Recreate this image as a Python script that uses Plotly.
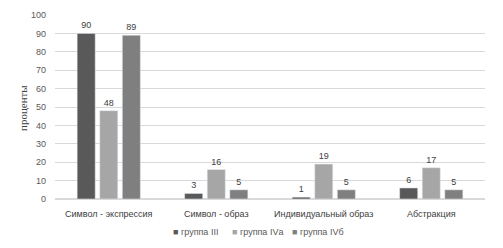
import plotly.graph_objects as go

categories = ["Символ - экспрессия", "Символ - образ", "Индивидуальный образ", "Абстракция"]
series_names = ["группа III", "группа IVа", "группа IVб"]
group_iii = [90, 3, 1, 6]
group_iva = [48, 16, 19, 17]
group_ivb = [89, 5, 5, 5]
colors = ["#595959", "#a6a6a6", "#7f7f7f"]
y_ticks = [0, 10, 20, 30, 40, 50, 60, 70, 80, 90, 100]

FONT = "Liberation Sans"
OFF = 8  # page body margin
W, H = 503 - OFF, 248 - OFF
L, R, T, B = 55 - OFF, 18, 15 - OFF, 49
pw, ph = W - L - R, H - T - B

fig = go.Figure()
for name, vals, c in zip(series_names, [group_iii, group_iva, group_ivb], colors):
    fig.add_trace(go.Bar(
        x=categories, y=vals, name=name, marker_color=c,
        text=[str(v) for v in vals], textposition="outside",
        textfont=dict(size=9, color="#404040", family=FONT),
        cliponaxis=False, showlegend=False,
    ))

# legend drawn as annotations (page pixel positions)
legend_x = [171, 230, 290]
annotations = []
for name, c, lx in zip(series_names, colors, legend_x):
    annotations.append(dict(
        text=f"<span style='color:{c}'>■</span> {name}",
        x=(lx - OFF - L) / pw, y=(248 - B - 232) / ph, xref="paper", yref="paper",
        xanchor="left", yanchor="middle", showarrow=False,
        font=dict(family=FONT, size=9, color="#595959")))
annotations.append(dict(text="проценты", x=(23 - OFF - L) / pw, y=(248 - B - 108) / ph,
                        xref="paper", yref="paper", xanchor="center", yanchor="middle",
                        textangle=-90, showarrow=False,
                        font=dict(family="Liberation Serif", size=11, color="#404040")))

fig.update_layout(
    width=W, height=H,
    margin=dict(l=L, r=R, t=T, b=B, autoexpand=False),
    paper_bgcolor="white", plot_bgcolor="white",
    barmode="group", bargap=0.37, bargroupgap=0.2,
    font=dict(family=FONT, size=9, color="#595959"),
    showlegend=False,
    xaxis=dict(showgrid=False, showline=False, ticks="", ticklabelstandoff=8,
               tickfont=dict(size=9, color="#404040"), automargin=False),
    yaxis=dict(range=[0, 100], tickvals=y_ticks, showgrid=True, gridcolor="#d9d9d9",
               gridwidth=1, zeroline=True, zerolinecolor="#d9d9d9", showline=False,
               ticks="", ticklabelstandoff=8, tickfont=dict(size=9, color="#595959"),
               automargin=False),
    annotations=annotations,
)

fig.write_html("out.html")
